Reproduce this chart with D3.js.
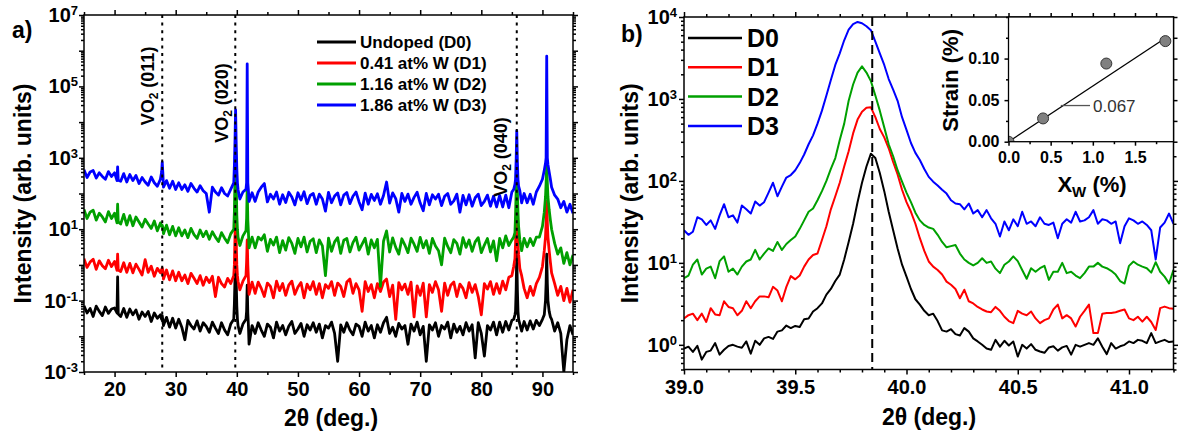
<!DOCTYPE html>
<html><head><meta charset="utf-8">
<script src="https://cdn.jsdelivr.net/npm/d3@7/dist/d3.min.js"></script>
<style>
body{margin:0;background:#fff;}
svg{display:block;font-family:"Liberation Sans",Arial,Helvetica,sans-serif;}
</style></head><body>
<svg id="chart" width="1178" height="439"></svg>
<script>
// ---------------- Panel a data ----------------
const twoThetaA = [
 15,15.5,16,16.5,17,17.5,18,18.5,19,19.5,
 20,20.4,20.5,20.6,21,21.5,22,22.5,
 23,23.5,24,24.5,25,25.5,26,26.5,27,27.5,
 27.7,27.8,27.9,28,28.5,29,29.5,30,
 30.5,31,31.5,32,32.5,33,33.5,34,34.5,35,
 35.5,36,36.5,37,37.5,38,38.5,39,39.5,
 39.6,39.7,39.8,39.9,40,40.1,40.2,40.5,
 41,41.5,41.6,41.7,41.8,41.9,42,42.5,
 43,43.5,44,44.5,45,45.5,46,46.5,47,47.5,
 48,48.5,49,49.5,50,50.5,51,51.5,52,52.5,
 53,53.5,54,54.5,55,55.5,56,56.5,57,57.5,
 58,58.5,59,59.5,60,60.5,61,61.5,62,62.5,
 63,63.5,64,64.5,65,65.5,66,66.5,67,67.5,
 68,68.5,69,69.5,70,70.5,71,71.5,72,72.5,
 73,73.5,74,74.5,75,75.5,76,76.5,77,77.5,
 78,78.5,79,79.5,80,80.5,81,81.5,82,82.5,
 83,83.5,84,84.5,85,85.3,85.5,85.6,
 85.7,85.8,85.9,86,86.1,86.3,86.6,87,
 87.5,88,88.5,89,89.5,90,
 90.3,90.5,90.6,90.7,90.8,90.9,91.1,91.3,
 91.5,92,92.5,93,93.5,94,94.5,95
];
const xrdD0 = [
 0.072,0.045,0.06,0.036,0.07,0.05,0.038,0.066,0.044,0.058,
 0.062,0.045,0.46,0.042,0.036,0.06,0.034,0.058,
 0.04,0.055,0.03,0.048,0.036,0.05,0.026,0.045,0.032,0.04,
 0.03,0.038,0.028,0.02,0.034,0.018,0.032,0.017,
 0.03,0.018,0.008,0.028,0.02,0.016,0.027,0.014,0.024,0.019,
 0.013,0.025,0.017,0.012,0.024,0.015,0.011,0.022,0.03,
 0.08,0.4,2.0,0.35,0.07,0.03,0.02,0.012,
 0.022,0.03,0.05,0.27,0.045,0.02,0.006,0.02,
 0.012,0.024,0.015,0.01,0.022,0.018,0.009,0.025,0.014,0.02,
 0.011,0.019,0.026,0.012,0.016,0.023,0.01,0.021,0.015,0.024,
 0.013,0.022,0.009,0.02,0.017,0.025,0.012,0.002,0.021,0.013,
 0.024,0.015,0.011,0.022,0.019,0.01,0.025,0.014,0.02,0.009,
 0.021,0.013,0.024,0.034,0.012,0.018,0.01,0.023,0.016,0.02,
 0.006,0.022,0.014,0.025,0.011,0.019,0.002,0.021,0.015,0.024,
 0.01,0.02,0.016,0.025,0.009,0.022,0.013,0.019,0.011,0.024,
 0.014,0.021,0.0025,0.024,0.012,0.0028,0.02,0.015,0.025,0.011,
 0.025,0.013,0.026,0.015,0.028,0.03,0.04,0.05,
 0.2,2.0,0.2,0.05,0.03,0.022,0.014,0.026,
 0.015,0.027,0.016,0.028,0.02,0.03,
 0.04,0.1,0.3,2.0,0.3,0.1,0.05,0.035,
 0.03,0.014,0.024,0.012,0.001,0.008,0.02,0.011
];
const xrdD1 = [
 1.5,0.85,1.2,1.45,0.75,1.3,0.95,0.78,1.35,0.9,
 1.25,0.7,2.0,0.72,0.65,1.15,0.62,1.1,
 0.6,1.05,0.75,0.52,1.4,0.62,0.92,0.48,0.8,0.6,
 0.75,0.82,0.7,0.4,0.72,0.38,0.68,0.36,
 0.62,0.36,0.52,0.3,0.58,0.42,0.3,0.5,0.27,0.45,
 0.32,0.48,0.13,0.45,0.3,0.24,0.42,0.3,0.5,
 1.0,6,30,5,1.0,0.5,0.35,0.2,
 0.35,0.5,1.2,5,1.0,0.4,0.15,0.33,
 0.16,0.33,0.22,0.13,0.31,0.25,0.12,0.35,0.19,0.3,
 0.14,0.27,0.35,0.15,0.24,0.32,0.12,0.29,0.2,0.34,
 0.15,0.3,0.12,0.28,0.22,0.34,0.14,0.31,0.25,0.13,
 0.33,0.4,0.16,0.3,0.2,0.05,0.34,0.18,0.28,0.12,
 0.3,0.18,0.33,0.4,0.13,0.27,0.03,0.32,0.2,0.29,
 0.15,0.33,0.035,0.26,0.14,0.31,0.035,0.28,0.17,0.34,
 0.2,0.05,0.31,0.14,0.27,0.33,0.13,0.29,0.22,0.12,
 0.32,0.17,0.28,0.13,0.04,0.3,0.21,0.34,0.15,0.3,
 0.16,0.35,0.2,0.45,0.5,0.9,1.5,4,
 15,60,15,4,2,0.8,0.5,0.22,
 0.12,0.25,0.14,0.3,0.45,0.9,
 2.5,6,15,60,15,6,2.5,1.2,
 0.6,0.3,0.14,0.25,0.1,0.22,0.09,0.2
];
const xrdD2 = [
 36,20,30,34,18,28,22,16,31,20,
 28,15,50,16,14,26,13,24,
 12.5,22,16,11.5,19,14,10.5,17,9,15,
 12,13,11,7.5,13,7,12,6.5,
 11,6.5,9.5,5.8,10.5,7,5.5,9.5,6.2,8.8,
 5.2,8.5,6,4.5,8,5.6,4.2,7.4,10,
 30,300,2500,250,25,10,6,3.5,
 6.5,9,20,150,18,8,3,6,
 3.0,6,5,7,2.4,5.2,3.6,6.0,2.2,4.8,
 2.6,5.8,4.0,2.1,5.5,3.2,6.0,2.3,4.6,5.4,
 2.2,5.0,3.4,0.5,5.6,2.4,4.4,5.8,2.1,4.9,
 5.5,2.3,4.2,6.0,2.6,3.8,5.6,2.0,5.0,3.0,
 5.2,0.25,4.6,9,2.3,5.7,3.1,2.0,5.4,3.6,
 2.2,5.6,3.8,2.4,5.9,3.0,4.8,2.1,5.5,3.4,
 2.5,1.0,5.6,3.3,2.2,5.1,4.0,2.0,5.8,3.1,
 5.0,2.4,4.4,5.8,2.2,3.6,5.5,2.3,4.7,1.3,
 5.5,3.0,6.5,3.5,5,6,8,25,
 120,600,120,30,12,5,2.5,5.5,
 3.2,5.5,3.5,6,6,12,
 30,80,200,600,200,80,35,18,
 10,4,2.0,3,1.1,2.2,1.0,1.9
];
const xrdD3 = [
 460,280,400,440,270,380,300,250,410,300,
 380,230,560,235,220,360,210,340,
 230,320,190,280,210,170,290,200,160,250,
 400,750,380,150,230,140,220,130,
 200,130,175,115,190,140,110,165,120,100,
 30,150,110,90,145,100,85,130,200,
 600,3000,22000,2500,500,200,130,70,
 110,130,200,430000,200,120,60,105,
 60,110,150,190,58,95,70,110,50,92,
 56,108,80,48,105,66,112,52,88,100,
 50,96,70,32,108,55,85,104,48,90,
 106,52,84,110,58,35,102,50,94,64,
 98,50,88,210,54,104,72,30,100,60,
 96,50,78,108,54,33,100,48,92,70,
 95,46,84,100,50,62,96,30,88,48,
 92,44,76,96,46,60,90,44,84,42,
 88,42,90,40,110,130,180,250,
 900,5700,800,250,160,120,55,100,
 55,95,50,110,160,250,
 450,700,1000,700000,1000,650,400,250,
 150,90,70,40,60,30,50,28
];
const legendA = ["Undoped (D0)", "0.41 at% W (D1)", "1.16 at% W (D2)", "1.86 at% W (D3)"];
const peakPos = [27.8, 39.75, 85.8];
const peakHkl = ["(011)", "(020)", "(040)"];
const xTicksA = [20,30,40,50,60,70,80,90];
const xMinorA = [15,25,35,45,55,65,75,85,95];

// ---------------- Panel b data ----------------
const twoThetaB = d3.range(111).map(i => +(39 + i*0.02).toFixed(2)); // 39.00 ... 41.20 sampling grid
const zoomD0 = [
 0.9,0.95,0.82,0.97,0.66,0.82,0.85,1.05,0.76,0.87,
 0.97,1.0,0.95,0.92,1.1,0.78,1.12,1.0,1.2,1.25,
 1.18,1.45,1.5,1.72,1.6,1.7,1.65,2.05,2.1,2.55,
 2.8,3.2,4.1,4.8,6.0,7.2,11,18,30,55,
 95,150,215,190,125,75,42,25,15,9.5,
 6.8,4.8,3.6,3.1,2.6,2.3,2.4,1.95,1.5,1.45,
 1.55,1.35,1.3,1.6,1.45,1.2,1.1,1.0,0.9,0.87,
 1.15,0.95,1.12,0.98,1.1,0.72,1.0,0.9,1.02,0.87,
 0.83,0.8,0.93,0.96,0.85,0.93,0.97,0.76,1.0,0.95,
 1.0,1.05,1.0,1.2,0.95,0.77,1.05,0.9,0.96,1.0,
 1.1,1.05,1.15,1.12,1.05,1.39,1.05,1.1,1.15,1.08,
 1.1
];
const zoomD1 = [
 2.1,2.3,2.4,2.0,2.4,1.9,2.8,2.35,2.3,3.4,
 2.9,2.8,2.3,2.6,3.4,2.8,3.4,3.9,3.9,3.8,
 5.1,4.6,3.4,5.1,6.9,6.3,7.0,9,11,12.5,
 13,19,28,45,65,95,150,230,380,560,
 700,780,790,600,430,340,250,170,120,78,
 55,42,30,20,14,10.4,9,8.2,7.2,5.9,
 5.4,4.8,3.7,4.7,3.4,3.2,2.9,2.7,2.55,2.5,
 2.9,2.6,2.2,1.95,1.84,2.6,2.4,2.3,2.55,2.1,
 1.84,2.0,2.1,2.7,3.1,2.1,2.3,2.1,1.67,2.2,
 2.6,3.1,1.39,1.39,2.4,2.44,2.44,2.5,2.6,2.7,
 2.1,2.0,2.2,1.92,2.2,1.9,1.52,2.8,2.93,2.8,
 2.75
];
const zoomD2 = [
 6.5,7.0,9.5,11,7.2,8.5,9,6.5,10.5,12,
 7.8,8.5,7.2,9,10.4,11,14.4,11,13,15,
 14,18,14.4,17,19,21,26,33,42,46,
 58,75,100,140,190,316,500,950,1500,2100,
 2500,2100,1650,1100,720,450,280,200,135,98,
 72,55,41,33,29,27,26,22,18,15.5,
 16,16.5,13,11,10,9.3,10,11.4,10,10.4,
 8.5,7.5,9.5,10.4,12,10.5,8.2,6.4,8.6,7.8,
 8.6,9.2,6.2,7.8,7.8,10,7.5,7.8,7.0,6.5,
 7.5,9,9.0,10,9,8.6,8.0,7.2,6.0,5.6,
 9.2,10.4,9.5,9,8.6,7.6,10.2,7.8,6.8,5.6,
 8.2
];
const zoomD3 = [
 25,22,24,36,34,29,33,26,38,52,
 36,38,31,50,45,40,56,50,55,72,
 95,65,85,110,118,135,165,210,280,360,
 500,720,1100,1700,2600,3600,5200,7000,8200,8700,
 8400,7700,6900,5000,3600,2600,1750,1300,950,600,
 420,290,220,180,140,112,98,88,78,70,
 58,53,52,45,53,40,44,36,44,35,
 30,21,32,25,34,28,42,30,32,28,
 36,30,29,31,20,30,34,31,42,32,
 33,36,44,30,34,33,30,32,17.4,28,
 35,33,30,32,29,25,11,27,31,40,
 30
];
const legendB = ["D0", "D1", "D2", "D3"];
const xTicksB = [39.0, 39.5, 40.0, 40.5, 41.0];
const xMinorB = [39.1,39.2,39.3,39.4,39.6,39.7,39.8,39.9,40.1,40.2,40.3,40.4,40.6,40.7,40.8,40.9,41.1,41.2];
const yTicksB = [1,10,100,1000,10000];
const peakRefB = 39.846;

// ---------------- Inset data ----------------
const xW = [0, 0.41, 1.16, 1.86];
const strain = [0, 0.028, 0.094, 0.121];
const fitX = [0, 1.88];
const fitY = [0, 0.126];
const fitLabel = "0.067";
const insetXTicks = [0, 0.5, 1.0, 1.5];
const insetXMinor = [0.25, 0.75, 1.25, 1.75];
const insetYTicks = [0, 0.05, 0.10];
const insetYMinor = [0.025, 0.075, 0.125, 0.15];

const colors = ["#000000", "#ff0000", "#00a000", "#0000ff"];

[xrdD0,xrdD1,xrdD2,xrdD3].forEach((s,i)=>{ if (s.length!==twoThetaA.length) console.error("panel a series "+i+" length "+s.length+" vs "+twoThetaA.length); });
[zoomD0,zoomD1,zoomD2,zoomD3].forEach((s,i)=>{ if (s.length!==twoThetaB.length) console.error("panel b series "+i+" length "+s.length); });

// ---------------- drawing ----------------
const svg = d3.select("#chart");
const defs = svg.append("defs");

function styleAxis(g, fs) {
  g.attr("font-family", null).attr("font-size", null);
  g.select(".domain").remove();
  g.selectAll(".tick line").attr("stroke", "#000").attr("stroke-width", 1.5);
  g.selectAll(".tick text").attr("fill", "#000").style("font-size", fs + "px").style("font-weight", "bold");
}
function powLabels(g) {
  g.selectAll(".tick text").each(function(d) {
    const t = d3.select(this);
    if (!t.text()) return;
    const e = Math.round(Math.log10(d));
    t.text(null);
    t.append("tspan").text("10");
    t.append("tspan").attr("dy", -7).style("font-size", "13px").text(String(e));
  });
}
function logMinor(lo, hi) {
  const out = [];
  for (let k = Math.floor(Math.log10(lo)); k <= Math.ceil(Math.log10(hi)); k++) {
    for (let m = 2; m <= 9; m++) { const v = m * Math.pow(10, k); if (v >= lo*0.999 && v <= hi*1.001) out.push(v); }
  }
  return out;
}
function decades(lo, hi) {
  const out = [];
  for (let k = Math.round(Math.log10(lo)); k <= Math.round(Math.log10(hi)); k++) out.push(Math.pow(10, k));
  return out;
}

// ===== Panel a =====
const aL = 84, aR = 573, aT = 15, aB = 372;
const xA = d3.scaleLinear().domain([15, 95]).range([aL, aR]);
const yA = d3.scaleLog().domain([1e-3, 1e7]).range([aB, aT]);
defs.append("clipPath").attr("id", "clipA").append("rect")
  .attr("x", aL).attr("y", aT).attr("width", aR - aL).attr("height", aB - aT);

const gA = svg.append("g");
const lineA = d3.line().x((d, i) => xA(twoThetaA[i])).y(d => yA(d));
gA.append("g").attr("clip-path", "url(#clipA)")
  .selectAll("path").data([xrdD0, xrdD1, xrdD2, xrdD3]).join("path")
  .attr("d", lineA).attr("fill", "none")
  .attr("stroke", (d, i) => colors[i]).attr("stroke-width", 2.8).attr("stroke-linejoin", "round");

// reference lines
gA.selectAll("line.ref").data(peakPos).join("line").attr("class", "ref")
  .attr("x1", d => xA(d)).attr("x2", d => xA(d)).attr("y1", aT).attr("y2", aB)
  .attr("stroke", "#000").attr("stroke-width", 2).attr("stroke-dasharray", "3,4.6");

const vo2Geo = [[154, 86], [228, 103], [507, 157]];
peakHkl.forEach((h, i) => {
  const t = gA.append("text")
    .attr("transform", `translate(${vo2Geo[i][0]},${vo2Geo[i][1]}) rotate(-90)`)
    .attr("text-anchor", "middle").style("font-size", "18px").style("font-weight", "bold");
  t.append("tspan").text("VO");
  t.append("tspan").attr("dy", 4).style("font-size", "12px").text("2");
  t.append("tspan").attr("dy", -4).text(" " + h);
});

// axes
const fmtA = d => { const e = Math.round(Math.log10(d)); return (Math.abs(e) % 2 === 1) ? "x" : ""; };
gA.append("g").attr("transform", `translate(0,${aB})`)
  .call(d3.axisBottom(xA).tickValues(xTicksA).tickSize(5).tickPadding(5).tickFormat(d3.format("d"))).call(g => styleAxis(g, 20));
gA.append("g").attr("transform", `translate(0,${aB})`)
  .call(d3.axisBottom(xA).tickValues(xMinorA).tickSize(3).tickFormat("")).call(g => styleAxis(g, 20));
gA.append("g").attr("transform", `translate(0,${aT})`)
  .call(d3.axisTop(xA).tickValues(xTicksA).tickSize(5).tickFormat("")).call(g => styleAxis(g, 20));
gA.append("g").attr("transform", `translate(0,${aT})`)
  .call(d3.axisTop(xA).tickValues(xMinorA).tickSize(3).tickFormat("")).call(g => styleAxis(g, 20));
gA.append("g").attr("transform", `translate(${aL},0)`)
  .call(d3.axisLeft(yA).tickValues(decades(1e-3, 1e7)).tickSize(5).tickPadding(1).tickFormat(fmtA))
  .call(g => styleAxis(g, 20)).call(powLabels);
gA.append("g").attr("transform", `translate(${aL},0)`)
  .call(d3.axisLeft(yA).tickValues(logMinor(1e-3, 1e7)).tickSize(3).tickFormat("")).call(g => styleAxis(g, 20));
gA.append("g").attr("transform", `translate(${aR},0)`)
  .call(d3.axisRight(yA).tickValues(decades(1e-3, 1e7)).tickSize(5).tickFormat("")).call(g => styleAxis(g, 20));
gA.append("g").attr("transform", `translate(${aR},0)`)
  .call(d3.axisRight(yA).tickValues(logMinor(1e-3, 1e7)).tickSize(3).tickFormat("")).call(g => styleAxis(g, 20));
gA.append("rect").attr("x", aL).attr("y", aT).attr("width", aR - aL).attr("height", aB - aT)
  .attr("fill", "none").attr("stroke", "#000").attr("stroke-width", 1.5);

// legend a
const legA = gA.append("g");
legendA.forEach((s, i) => {
  const y = 42 + i * 21;
  legA.append("line").attr("x1", 317).attr("x2", 356).attr("y1", y).attr("y2", y)
    .attr("stroke", colors[i]).attr("stroke-width", 3);
  legA.append("text").attr("x", 360).attr("y", y + 6).style("font-size", "17px").style("font-weight", "bold").text(s);
});

// titles a
gA.append("text").attr("x", 12).attr("y", 38).style("font-size", "23px").style("font-weight", "bold").text("a)");
gA.append("text").attr("transform", `translate(31,${(aT + aB) / 2}) rotate(-90)`).attr("text-anchor", "middle")
  .style("font-size", "23px").style("font-weight", "bold").text("Intensity (arb. units)");
gA.append("text").attr("x", 331).attr("y", 426).attr("text-anchor", "middle")
  .style("font-size", "23px").style("font-weight", "bold").text("2θ (deg.)");

// ===== Panel b =====
const bL = 684, bR = 1173.5, bT = 17, bB = 369.5;
const xB = d3.scaleLinear().domain([39, 41.2]).range([bL, bR]);
const yB = d3.scaleLog().domain([0.5, 1e4]).range([bB, bT]);
defs.append("clipPath").attr("id", "clipB").append("rect")
  .attr("x", bL).attr("y", bT).attr("width", bR - bL).attr("height", bB - bT);
const gB = svg.append("g");
const lineB = d3.line().x((d, i) => xB(twoThetaB[i])).y(d => yB(d));
gB.append("g").attr("clip-path", "url(#clipB)")
  .selectAll("path").data([zoomD0, zoomD1, zoomD2, zoomD3]).join("path")
  .attr("d", lineB).attr("fill", "none")
  .attr("stroke", (d, i) => colors[i]).attr("stroke-width", 2).attr("stroke-linejoin", "round");
gB.append("line").attr("x1", xB(peakRefB)).attr("x2", xB(peakRefB)).attr("y1", bT).attr("y2", bB)
  .attr("stroke", "#000").attr("stroke-width", 2).attr("stroke-dasharray", "9,5");

// inset geometry
const iL = 1008.5, iR = bR, iT = bT, iB = 141.7;
const insetTopVisible = v => xB(v) < iL - 1;
const insetRightVisible = v => yB(v) > iB + 1;

gB.append("g").attr("transform", `translate(0,${bB})`)
  .call(d3.axisBottom(xB).tickValues(xTicksB).tickSize(5).tickPadding(5).tickFormat(d3.format(".1f"))).call(g => styleAxis(g, 20));
gB.append("g").attr("transform", `translate(0,${bB})`)
  .call(d3.axisBottom(xB).tickValues(xMinorB).tickSize(3).tickFormat("")).call(g => styleAxis(g, 20));
gB.append("g").attr("transform", `translate(0,${bT})`)
  .call(d3.axisTop(xB).tickValues(xTicksB.filter(insetTopVisible)).tickSize(5).tickFormat("")).call(g => styleAxis(g, 20));
gB.append("g").attr("transform", `translate(0,${bT})`)
  .call(d3.axisTop(xB).tickValues(xMinorB.filter(insetTopVisible)).tickSize(3).tickFormat("")).call(g => styleAxis(g, 20));
gB.append("g").attr("transform", `translate(${bL},0)`)
  .call(d3.axisLeft(yB).tickValues(yTicksB).tickSize(5).tickPadding(2).tickFormat(d => "x"))
  .call(g => styleAxis(g, 20)).call(powLabels);
gB.append("g").attr("transform", `translate(${bL},0)`)
  .call(d3.axisLeft(yB).tickValues(logMinor(0.5, 1e4)).tickSize(3).tickFormat("")).call(g => styleAxis(g, 20));
gB.append("g").attr("transform", `translate(${bR},0)`)
  .call(d3.axisRight(yB).tickValues(yTicksB.filter(insetRightVisible)).tickSize(5).tickFormat("")).call(g => styleAxis(g, 20));
gB.append("g").attr("transform", `translate(${bR},0)`)
  .call(d3.axisRight(yB).tickValues(logMinor(0.5, 1e4).filter(insetRightVisible)).tickSize(3).tickFormat("")).call(g => styleAxis(g, 20));
gB.append("rect").attr("x", bL).attr("y", bT).attr("width", bR - bL).attr("height", bB - bT)
  .attr("fill", "none").attr("stroke", "#000").attr("stroke-width", 1.5);

// legend b
legendB.forEach((s, i) => {
  const y = 38 + i * 29.3;
  gB.append("line").attr("x1", 688).attr("x2", 742).attr("y1", y).attr("y2", y)
    .attr("stroke", colors[i]).attr("stroke-width", 2.5);
  gB.append("text").attr("x", 747).attr("y", y + 9).style("font-size", "25px").style("font-weight", "bold").text(s);
});
gB.append("text").attr("x", 621).attr("y", 42).style("font-size", "23px").style("font-weight", "bold").text("b)");
gB.append("text").attr("transform", `translate(638,${(bT + bB) / 2}) rotate(-90)`).attr("text-anchor", "middle")
  .style("font-size", "23px").style("font-weight", "bold").text("Intensity (arb. units)");
gB.append("text").attr("x", 929).attr("y", 425).attr("text-anchor", "middle")
  .style("font-size", "23px").style("font-weight", "bold").text("2θ (deg.)");

// ===== Inset =====
const xI = d3.scaleLinear().domain([0, 1.5]).range([iL, iL + 126.5]);
const yI = d3.scaleLinear().domain([0, 0.15]).range([iB, iT]);
const gI = svg.append("g");
gI.append("rect").attr("x", iL).attr("y", iT).attr("width", iR - iL).attr("height", iB - iT).attr("fill", "#fff");
defs.append("clipPath").attr("id", "clipI").append("rect")
  .attr("x", iL).attr("y", iT).attr("width", iR - iL).attr("height", iB - iT);
gI.append("path").datum(fitX.map((x, i) => [x, fitY[i]]))
  .attr("d", d3.line().x(d => xI(d[0])).y(d => yI(d[1])))
  .attr("stroke", "#000").attr("stroke-width", 1.3).attr("fill", "none");
gI.append("g").attr("clip-path", "url(#clipI)").selectAll("circle").data(xW).join("circle")
  .attr("cx", d => xI(d)).attr("cy", (d, i) => yI(strain[i])).attr("r", 5.5)
  .attr("fill", "#808080").attr("stroke", "#333").attr("stroke-width", 1);
gI.append("line").attr("x1", xI(0.62)).attr("x2", 1090).attr("y1", yI(0.0435)).attr("y2", yI(0.0435))
  .attr("stroke", "#555").attr("stroke-width", 1.3);
gI.append("text").attr("x", 1093).attr("y", yI(0.0435) + 6).style("font-size", "17px").style("font-weight", "normal")
  .attr("fill", "#333").text(fitLabel);

gI.append("g").attr("transform", `translate(0,${iB})`)
  .call(d3.axisBottom(xI).tickValues(insetXTicks).tickSize(4).tickPadding(6).tickFormat(d3.format(".1f"))).call(g => styleAxis(g, 16));
gI.append("g").attr("transform", `translate(0,${iB})`)
  .call(d3.axisBottom(xI).tickValues(insetXMinor).tickSize(2.5).tickFormat("")).call(g => styleAxis(g, 16));
gI.append("g").attr("transform", `translate(0,${iT})`)
  .call(d3.axisTop(xI).tickValues(insetXTicks.concat(insetXMinor)).tickSize(4).tickFormat("")).call(g => styleAxis(g, 16));
gI.append("g").attr("transform", `translate(${iL},0)`)
  .call(d3.axisLeft(yI).tickValues(insetYTicks).tickSize(4).tickPadding(5).tickFormat(d3.format(".2f"))).call(g => styleAxis(g, 16));
gI.append("g").attr("transform", `translate(${iL},0)`)
  .call(d3.axisLeft(yI).tickValues(insetYMinor).tickSize(2.5).tickFormat("")).call(g => styleAxis(g, 16));
gI.append("g").attr("transform", `translate(${iR},0)`)
  .call(d3.axisRight(yI).tickValues(insetYTicks.concat(insetYMinor)).tickSize(4).tickFormat("")).call(g => styleAxis(g, 16));
gI.append("rect").attr("x", iL).attr("y", iT).attr("width", iR - iL).attr("height", iB - iT)
  .attr("fill", "none").attr("stroke", "#000").attr("stroke-width", 1.3);

gI.append("text").attr("transform", `translate(958,${(iT + iB) / 2 + 1}) rotate(-90)`).attr("text-anchor", "middle")
  .style("font-size", "22px").style("font-weight", "bold").text("Strain (%)");
const xt = gI.append("text").attr("x", 1092).attr("y", 191.5).attr("text-anchor", "middle")
  .style("font-size", "22px").style("font-weight", "bold");
xt.append("tspan").text("X");
xt.append("tspan").attr("dy", 5).style("font-size", "15px").text("W");
xt.append("tspan").attr("dy", -5).text(" (%)");
</script></body></html>
